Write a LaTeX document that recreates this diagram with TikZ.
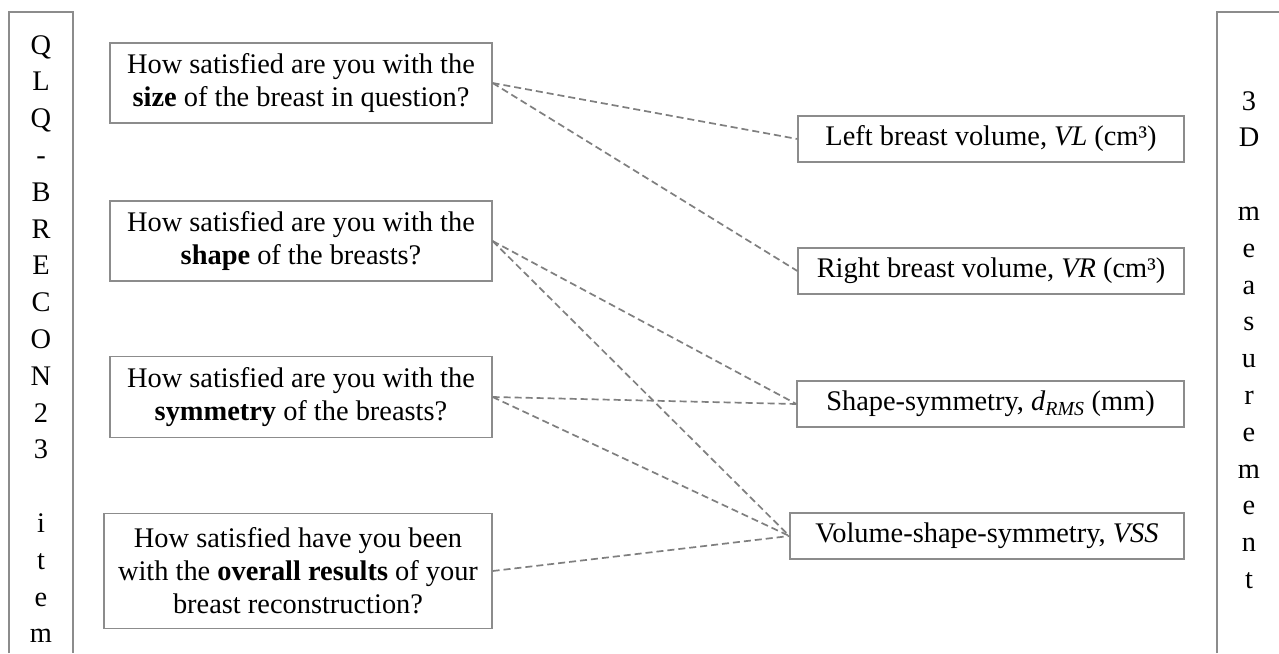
\documentclass[tikz,border=0pt]{standalone}
\usepackage{fontspec}
\setmainfont{Liberation Serif}
\definecolor{boxgray}{HTML}{8C8C8C}
\definecolor{linegray}{HTML}{7F7F7F}
\begin{document}
\begin{tikzpicture}[x=1pt,y=-1pt,
  qbox/.style={draw=boxgray, line width=1.2pt, inner sep=0pt, align=center, font=\fontsize{28.4}{33}\selectfont},
  mbox/.style={draw=boxgray, line width=1.2pt, inner sep=0pt, minimum height=46pt, font=\fontsize{28.4}{33}\selectfont},
  link/.style={draw=linegray, line width=1.7pt, dash pattern=on 7pt off 4pt},
  panel/.style={draw=boxgray, line width=1.2pt},
  letter/.style={anchor=base, inner sep=0pt, font=\fontsize{28.4}{33}\selectfont}]
\useasboundingbox (0,0) rectangle (1279,653);
\fill[white] (0,0) rectangle (1279,653);

% side panels
\draw[panel] (9,653) -- (9,12) -- (73,12) -- (73,653);
\draw[panel] (1217,653) -- (1217,12) -- (1279,12);
\foreach \ch/\k in {Q/0,L/1,Q/2,-/3,B/4,R/5,E/6,C/7,O/8,N/9,2/10,3/11,i/13,t/14,e/15,m/16}
  \node[letter] (ql\k) at (41,{54+36.8*\k}) {\ch};
\foreach \ch/\k in {3/0,D/1,m/3,e/4,a/5,s/6,u/7,r/8,e/9,m/10,e/11,n/12,t/13}
  \node[letter] (ml\k) at (1249,{110+36.8*\k}) {\ch};

% questionnaire items
\node[qbox, minimum width=382pt, minimum height=80pt] (q1) at (301,83)
  {How satisfied are you with the\\\textbf{size} of the breast in question?};
\node[qbox, minimum width=382pt, minimum height=80pt] (q2) at (301,241)
  {How satisfied are you with the\\\textbf{shape} of the breasts?};
\node[qbox, minimum width=382pt, minimum height=81pt] (q3) at (301,397)
  {How satisfied are you with the\\\textbf{symmetry} of the breasts?};
\node[qbox, minimum width=388pt, minimum height=115pt] (q4) at (298,571)
  {How satisfied have you been\\with the \textbf{overall results} of your\\breast reconstruction?};

% 3D measurements
\node[mbox, minimum width=386pt] (m1) at (991,139) {Left breast volume, \textit{VL} (cm³)};
\node[mbox, minimum width=386pt] (m2) at (991,271) {Right breast volume, \textit{VR} (cm³)};
\node[mbox, minimum width=387pt] (m3) at (990.5,404) {Shape-symmetry, \textit{d}\textsubscript{\textit{RMS}} (mm)};
\node[mbox, minimum width=394pt] (m4) at (987,536) {Volume-shape-symmetry, \textit{VSS}};

% connectors
\draw[link] (q1.east) -- (m1.west);
\draw[link] (q1.east) -- (m2.west);
\draw[link] (q2.east) -- (m3.west);
\draw[link] (q2.east) -- (m4.west);
\draw[link] (q3.east) -- (m3.west);
\draw[link] (q3.east) -- (m4.west);
\draw[link] (q4.east) -- (m4.west);
\end{tikzpicture}
\end{document}
